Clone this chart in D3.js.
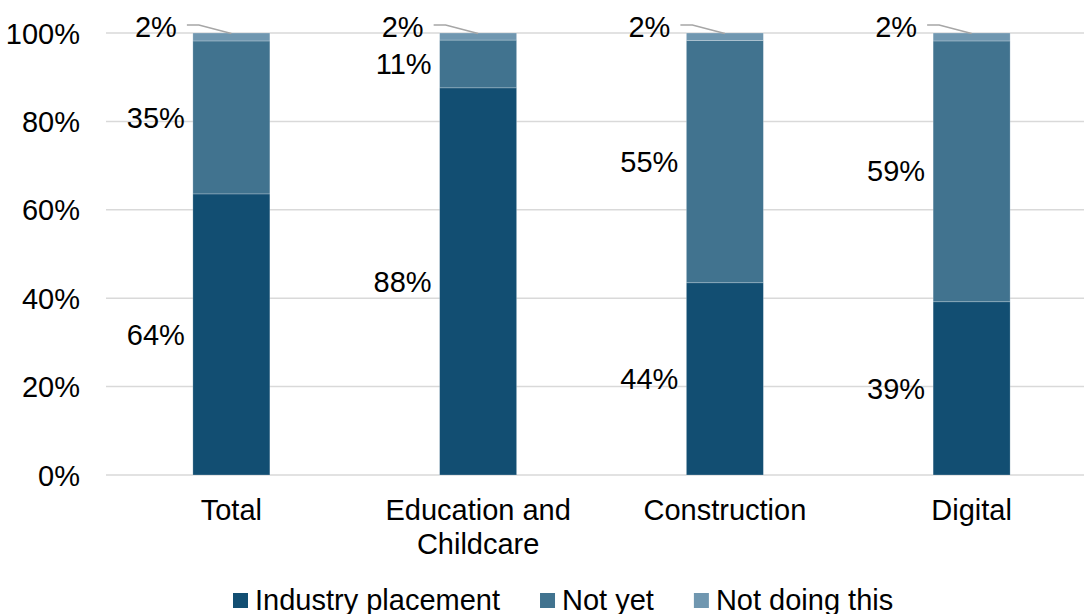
<!DOCTYPE html>
<html>
<head>
<meta charset="utf-8">
<script src="https://cdn.jsdelivr.net/npm/d3@7"></script>
<style>
  html, body { margin: 0; padding: 0; background: #fff; }
  svg { display: block; font-family: "Liberation Sans", Arial, sans-serif; }
</style>
</head>
<body>
<svg id="chart" width="1084" height="614"></svg>
<script>
// Share of learners by placement status, per route
const categories = ["Total", "Education and Childcare", "Construction", "Digital"];
const seriesNames = ["Industry placement", "Not yet", "Not doing this"];
const industryPlacement = [63.6, 87.6, 43.5, 39.2];
const notYet = [34.6, 10.8, 54.8, 59.0];
const notDoingThis = [1.8, 1.6, 1.7, 1.8];
const yTicks = [0, 20, 40, 60, 80, 100];
const colors = ["#124e72", "#41738f", "#7097b0"];

const svg = d3.select("#chart");
const W = 1084;
const fontSize = 29;

const x = d3.scaleBand().domain(categories).range([108, 1095]).padding(0);
const y = d3.scaleLinear().domain([0, 100]).range([475, 33]);
const barW = x.bandwidth() * 0.312;

// Gridlines and y-axis labels
const yAxis = d3.axisLeft(y).tickValues(yTicks).tickSize(0).tickPadding(0)
  .tickFormat(d => d + "%");
const gy = svg.append("g").attr("transform", "translate(80,0)").call(yAxis);
gy.select(".domain").remove();
gy.selectAll("text").attr("font-size", fontSize).attr("fill", "#000")
  .attr("font-family", "Liberation Sans, Arial, sans-serif").attr("dy", "0.35em");

svg.append("g").selectAll("line").data(yTicks).join("line")
  .attr("x1", 106).attr("x2", W)
  .attr("y1", d => y(d)).attr("y2", d => y(d))
  .attr("stroke", "#d9d9d9").attr("stroke-width", 1.5);

// Stacked bars
const rows = categories.map((c, i) => ({
  cat: c,
  "Industry placement": industryPlacement[i],
  "Not yet": notYet[i],
  "Not doing this": notDoingThis[i]
}));
const stack = d3.stack().keys(seriesNames)(rows);

const layers = svg.append("g").selectAll("g").data(stack).join("g")
  .attr("fill", (d, i) => colors[i]);
layers.selectAll("rect").data(d => d).join("rect")
  .attr("x", d => x(d.data.cat) + (x.bandwidth() - barW) / 2)
  .attr("width", barW)
  .attr("y", d => y(d[1]))
  .attr("height", d => y(d[0]) - y(d[1]))
  .attr("stroke", "rgba(255,255,255,0.3)").attr("stroke-width", 0.75);

// Data labels for the two lower segments, placed left of each bar
const labelG = svg.append("g").attr("font-size", fontSize).attr("fill", "#000");
stack.slice(0, 2).forEach(layer => {
  layer.forEach(d => {
    const left = x(d.data.cat) + (x.bandwidth() - barW) / 2;
    labelG.append("text")
      .attr("x", left - 8)
      .attr("y", y((d[0] + d[1]) / 2))
      .attr("dy", "0.35em")
      .attr("text-anchor", "end")
      .text(Math.round(d[1] - d[0]) + "%");
  });
});

// Top segment labels with leader lines
stack[2].forEach(d => {
  const left = x(d.data.cat) + (x.bandwidth() - barW) / 2;
  const cx = x(d.data.cat) + x.bandwidth() / 2;
  const ly = y(100) - 8;
  svg.append("polyline")
    .attr("points", [[left - 6, ly], [left + 6, ly], [cx, y(d[1]) + 0.5]].map(p => p.join(",")).join(" "))
    .attr("fill", "none").attr("stroke", "#a6a6a6").attr("stroke-width", 1.5);
  labelG.append("text")
    .attr("x", left - 16)
    .attr("y", y(100) - 6)
    .attr("dy", "0.35em")
    .attr("text-anchor", "end")
    .text(Math.round(d[1] - d[0]) + "%");
});

// Category labels (wrapped to two lines where needed)
const catLines = { "Education and Childcare": ["Education and", "Childcare"] };
const catG = svg.append("g").attr("font-size", fontSize).attr("fill", "#000").attr("text-anchor", "middle");
categories.forEach(c => {
  const lines = catLines[c] || [c];
  const t = catG.append("text").attr("x", x(c) + x.bandwidth() / 2).attr("y", 520);
  lines.forEach((ln, i) => {
    t.append("tspan").attr("x", x(c) + x.bandwidth() / 2).attr("dy", i === 0 ? 0 : 34).text(ln);
  });
});

// Legend
const legend = svg.append("g").attr("font-size", fontSize);
let lx = 233;
seriesNames.forEach((name, i) => {
  legend.append("rect").attr("x", lx).attr("y", 593).attr("width", 15).attr("height", 15).attr("fill", colors[i]);
  const t = legend.append("text").attr("x", lx + 22).attr("y", 610).attr("fill", "#000").text(name);
  lx += 22 + t.node().getComputedTextLength() + 40;
});
</script>
</body>
</html>
